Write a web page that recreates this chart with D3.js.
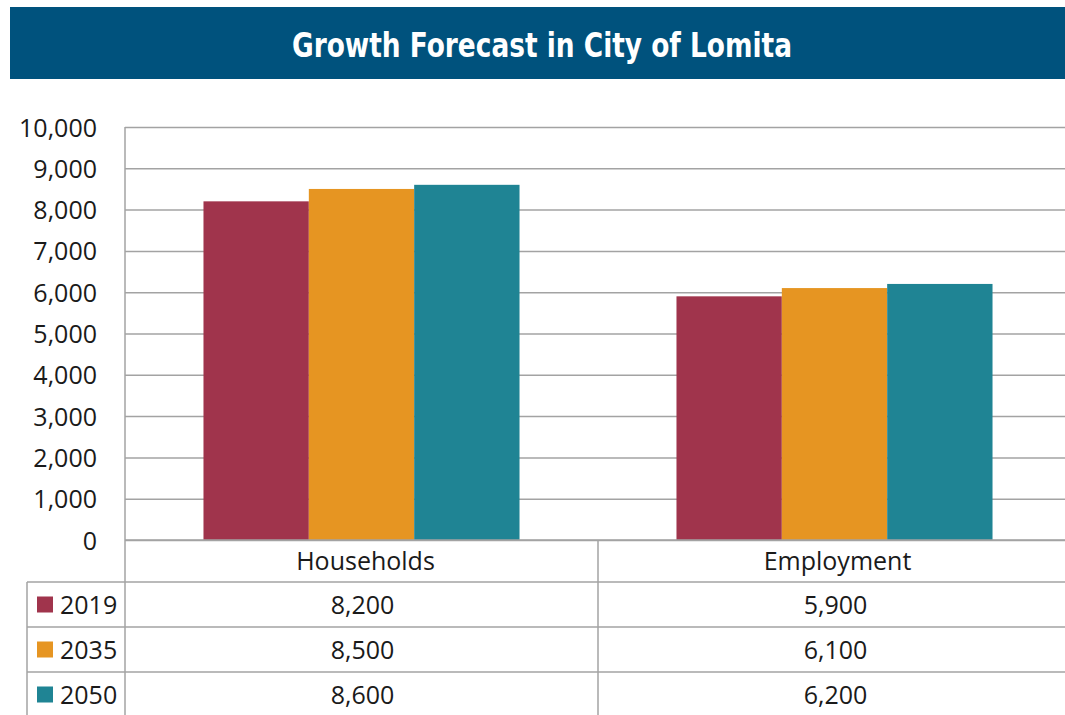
<!DOCTYPE html>
<html lang="en">
<head>
  <meta charset="UTF-8">
  <title>Growth Forecast in City of Lomita</title>
  <script src="https://d3js.org/d3.v7.min.js"></script>
  <style>
    body { margin: 0; background: #fff; }
    .grid line { stroke: #a3a3a3; stroke-width: 1.5px; }
    .grid .domain { display: none; }
    .grid text { font-family: "Open Sans", sans-serif; font-size: 25px; fill: #1a1a1a; }
    .tbl line { stroke: #a3a3a3; stroke-width: 1.5px; }
    .tbl text { font-family: "Open Sans", sans-serif; font-size: 25px; fill: #1a1a1a; }
  </style>
</head>
<body>
  <div id="chart"></div>
  <script>

    var title = "Growth Forecast in City of Lomita";
    var categories = ["Households", "Employment"];
    var years = ["2019", "2035", "2050"];
    var values2019 = [8200, 5900];
    var values2035 = [8500, 6100];
    var values2050 = [8600, 6200];
    var yTicks = [0, 1000, 2000, 3000, 4000, 5000, 6000, 7000, 8000, 9000, 10000];
    var colors = ["#a0344c", "#e69522", "#1f8494"];

    var series = [values2019, values2035, values2050];

    var w = 1065, h = 715;
    var plotLeft = 125, plotRight = 1071, plotTop = 127, plotBottom = 540;
    var legendX = 27;
    var rowY = [540, 582, 627, 672, 717];

    var svg = d3.select("#chart").append("svg")
      .attr("width", w)
      .attr("height", h);

    // title bar
    svg.append("rect")
      .attr("x", 10).attr("y", 7)
      .attr("width", w - 10).attr("height", 72)
      .attr("fill", "#00527d");

    svg.append("text")
      .attr("x", 542).attr("y", 57)
      .attr("text-anchor", "middle")
      .attr("font-family", "DejaVu Sans Condensed, DejaVu Sans, sans-serif")
      .attr("font-weight", "bold")
      .attr("font-size", 33)
      .attr("textLength", 500)
      .attr("lengthAdjust", "spacingAndGlyphs")
      .attr("fill", "#fff")
      .text(title);

    var y = d3.scaleLinear().domain([0, 10000]).range([plotBottom, plotTop]);
    var x0 = d3.scaleBand().domain(categories).range([plotLeft, plotRight]);
    var x1 = d3.scaleBand().domain(years).range([0, x0.bandwidth()]).paddingOuter(0.745);

    // grid + y labels
    var grid = svg.append("g")
      .attr("class", "grid")
      .attr("transform", "translate(" + plotLeft + ",0)")
      .call(d3.axisLeft(y).tickValues(yTicks).tickFormat(d3.format(",")).tickSize(-(w - plotLeft)).tickPadding(28));
    grid.selectAll("text").attr("dy", "0.36em");

    // bars
    var groups = svg.append("g").selectAll("g")
      .data(categories)
      .join("g")
      .attr("transform", function(d) { return "translate(" + x0(d) + ",0)"; });

    groups.selectAll("rect")
      .data(function(d, i) {
        return years.map(function(yr, j) { return { year: yr, value: series[j][i], k: j }; });
      })
      .join("rect")
      .attr("x", function(d) { return x1(d.year); })
      .attr("y", function(d) { return y(d.value); })
      .attr("width", x1.bandwidth())
      .attr("height", function(d) { return plotBottom - y(d.value); })
      .attr("fill", function(d) { return colors[d.k]; });

    // data table
    var tbl = svg.append("g").attr("class", "tbl");

    // horizontal lines
    tbl.append("line").attr("x1", plotLeft).attr("x2", w).attr("y1", rowY[0]).attr("y2", rowY[0]);
    for (var r = 1; r < 4; r++) {
      tbl.append("line").attr("x1", legendX).attr("x2", w).attr("y1", rowY[r]).attr("y2", rowY[r]);
    }
    // vertical lines
    tbl.append("line").attr("x1", plotLeft).attr("x2", plotLeft).attr("y1", plotTop).attr("y2", h);
    tbl.append("line").attr("x1", x0(categories[1])).attr("x2", x0(categories[1])).attr("y1", rowY[0]).attr("y2", h);
    tbl.append("line").attr("x1", legendX).attr("x2", legendX).attr("y1", rowY[1]).attr("y2", h);

    // header row
    tbl.selectAll("text.head")
      .data(categories)
      .join("text")
      .attr("class", "head")
      .attr("x", function(d) { return x0(d) + x0.bandwidth() / 2 + (d === categories[1] ? 3 : 4); })
      .attr("y", (rowY[0] + rowY[1]) / 2)
      .attr("dy", "0.36em")
      .attr("text-anchor", "middle")
      .text(function(d) { return d; });

    // rows
    years.forEach(function(yr, j) {
      var cy = (rowY[j + 1] + rowY[j + 2]) / 2;
      tbl.append("rect")
        .attr("x", 37).attr("y", cy - 8)
        .attr("width", 16).attr("height", 16)
        .attr("fill", colors[j]);
      tbl.append("text")
        .attr("x", 60).attr("y", cy)
        .attr("dy", "0.36em")
        .text(yr);
      categories.forEach(function(c, i) {
        tbl.append("text")
          .attr("x", x0(c) + x0.bandwidth() / 2 + 1)
          .attr("y", cy)
          .attr("dy", "0.36em")
          .attr("text-anchor", "middle")
          .text(d3.format(",")(series[j][i]));
      });
    });

  </script>
</body>
</html>
